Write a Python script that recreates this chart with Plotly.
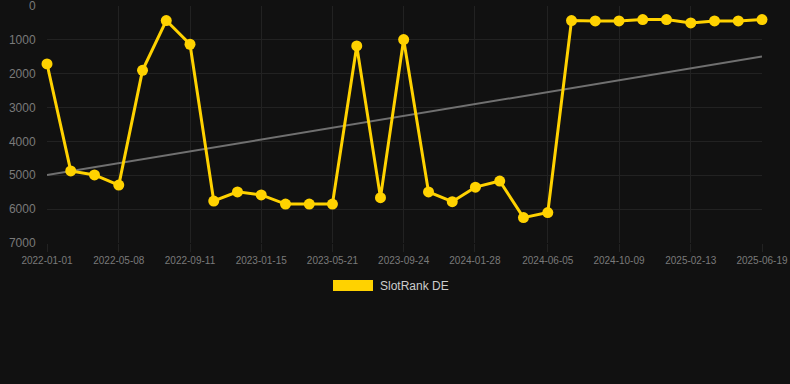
import numpy as np
import pandas as pd
import plotly.graph_objects as go

dates = [
    "2022-01-01", "2022-02-12", "2022-03-26", "2022-05-08", "2022-06-19", "2022-07-31",
    "2022-09-11", "2022-10-23", "2022-12-04", "2023-01-15", "2023-02-27", "2023-04-10",
    "2023-05-21", "2023-07-03", "2023-08-14", "2023-09-24", "2023-11-07", "2023-12-19",
    "2024-01-29", "2024-03-12", "2024-04-23", "2024-06-05", "2024-07-17", "2024-08-28",
    "2024-10-09", "2024-11-20", "2025-01-01", "2025-02-13", "2025-03-27", "2025-05-08",
    "2025-06-19",
]
rank_de = [
    1710, 4870, 4990, 5290, 1900, 430, 1130, 5760, 5490, 5580, 5850, 5850,
    5850, 1180, 5660, 990, 5490, 5780, 5350, 5170, 6250, 6100, 430, 440,
    440, 400, 400, 500, 440, 440, 400,
]
tick_labels = [
    "2022-01-01", "2022-05-08", "2022-09-11", "2023-01-15", "2023-05-21", "2023-09-24",
    "2024-01-28", "2024-06-05", "2024-10-09", "2025-02-13", "2025-06-19",
]
y_ticks = [0, 1000, 2000, 3000, 4000, 5000, 6000, 7000]
series_name = "SlotRank DE"

# linear trend through the series
x_dt = pd.to_datetime(dates)
x_num = (x_dt - x_dt[0]).days.values.astype(float)
slope, intercept = np.polyfit(x_num, np.array(rank_de, dtype=float), 1)
trend_x = [dates[0], dates[-1]]
trend_y = [intercept + slope * x_num[0], intercept + slope * x_num[-1]]

GOLD = "#FFD200"
BG = "#111111"
GRID = "#222222"
TICK = "#7a7a7a"

fig = go.Figure()
fig.add_trace(go.Scatter(
    x=trend_x, y=trend_y, mode="lines",
    line=dict(color="#707070", width=2), hoverinfo="skip", showlegend=False,
))
fig.add_trace(go.Scatter(
    x=dates, y=rank_de, mode="lines+markers", name=series_name,
    line=dict(color=GOLD, width=3),
    marker=dict(color=GOLD, size=11),
    cliponaxis=False, showlegend=False,
))

fig.update_layout(
    width=790, height=384,
    paper_bgcolor=BG, plot_bgcolor=BG,
    margin=dict(l=47, r=28, t=6, b=141, autoexpand=False),
    font=dict(family="Liberation Sans, Arial, sans-serif", color=TICK),
    xaxis=dict(
        range=[dates[0], dates[-1]],
        tickvals=tick_labels, ticktext=tick_labels,
        showgrid=True, gridcolor=GRID, gridwidth=1,
        zeroline=False, showline=False,
        ticks="outside", ticklen=8, tickcolor=GRID,
        tickfont=dict(size=10, color=TICK),
        ticklabeloverflow="allow", automargin=False,
    ),
    yaxis=dict(
        range=[7000, 0], tickvals=y_ticks,
        showgrid=True, gridcolor=GRID, gridwidth=1,
        zeroline=False, showline=False,
        ticks="outside", ticklen=8, tickcolor=BG,
        tickfont=dict(size=12, color=TICK),
        ticklabeloverflow="allow", automargin=False,
    ),
    shapes=[dict(
        type="rect", xref="paper", yref="paper",
        x0=(333 - 47) / 715, x1=(373 - 47) / 715,
        y0=(243 - 291) / 237, y1=(243 - 280) / 237,
        fillcolor=GOLD, line=dict(width=0),
    )],
    annotations=[dict(
        text=series_name, xref="paper", yref="paper",
        x=(378 - 47) / 715, y=(243 - 285.5) / 237,
        xanchor="left", yanchor="middle", showarrow=False,
        font=dict(size=12, color="#cccccc"),
    )],
)

fig.write_html(
    "out.html",
    config={"displayModeBar": False},
    post_script="document.body.style.margin='0';document.body.style.padding='0';"
                "document.body.style.background='#111111';",
)
